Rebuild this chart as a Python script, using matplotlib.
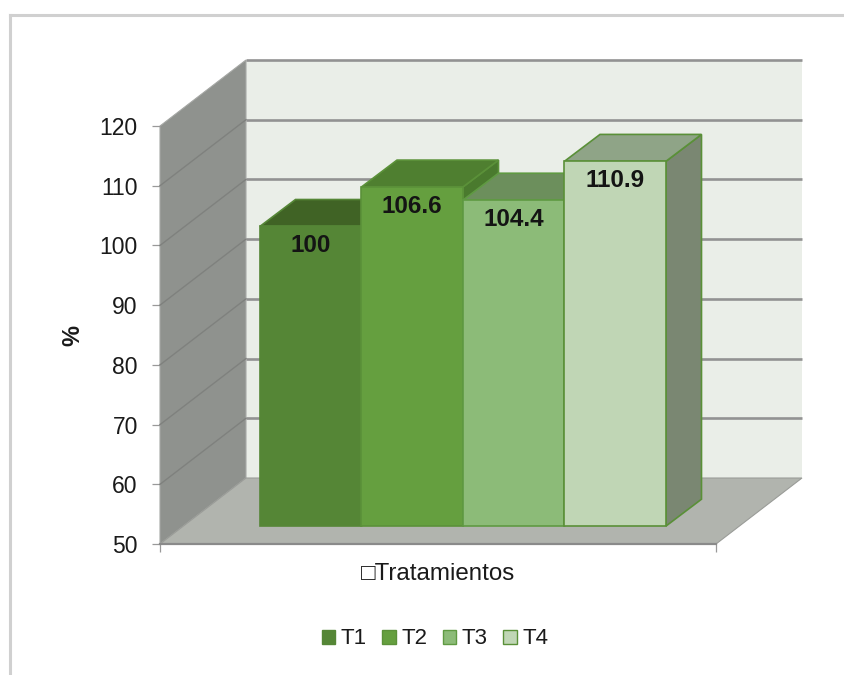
import matplotlib
matplotlib.use("Agg")
import matplotlib.pyplot as plt
from matplotlib.lines import Line2D
from matplotlib.patches import Patch, Polygon
import numpy as np

plt.rcParams.update({"font.family": ["Liberation Sans", "DejaVu Sans"], "font.size": 16})

TREATMENTS = ["T1", "T2", "T3", "T4"]
VALUES = [100, 106.6, 104.4, 110.9]
VALUE_LABELS = ["100", "106.6", "104.4", "110.9"]
Y_TICKS = [50, 60, 70, 80, 90, 100, 110, 120]

FRONT = ["#558636", "#659F3F", "#8CBB78", "#C0D6B5"]
TOP = ["#406325", "#4F7F30", "#6C8F5C", "#8FA487"]
SIDE = ["#3E6A26", "#4A7A2E", "#5F8A50", "#7A8772"]
EDGE = ["#558636", "#5B9139", "#5F9A42", "#5A9038"]

# oblique "3D" offsets, in data units
WALL_DX, WALL_DY = 0.847, 11.05
BAR_DX, BAR_DY = 0.35, 4.5
BAR_LIFT, BAR_FLOOR = 3.19, 53.0
X_MIN, X_MAX = -0.985, 4.493

fig = plt.figure(figsize=(8.44, 6.75), dpi=100)
ax = fig.add_axes([160 / 844, 1 - 544 / 675, 556 / 844, 418 / 675])
ax.set_xlim(X_MIN, X_MAX)
ax.set_ylim(50, 120)
ax.patch.set_visible(False)


def face(pts, color, z, edge="none", lw=0):
    ax.add_patch(Polygon(pts, closed=True, facecolor=color, edgecolor=edge,
                         linewidth=lw, zorder=z, clip_on=False))


# ---- walls and floor ----
bx0, bx1 = X_MIN + WALL_DX, X_MAX + WALL_DX
face([(bx0, 50 + WALL_DY), (bx1, 50 + WALL_DY), (bx1, 120 + WALL_DY), (bx0, 120 + WALL_DY)], "#EAEEE8", 1)
face([(X_MIN, 50), (bx0, 50 + WALL_DY), (bx0, 120 + WALL_DY), (X_MIN, 120)], "#8F928E", 1,
     edge="#A5A7A4", lw=0.8)
face([(X_MIN, 50), (X_MAX, 50), (bx1, 50 + WALL_DY), (bx0, 50 + WALL_DY)], "#B1B4AE", 1,
     edge="#9A9C98", lw=0.8)

for v in Y_TICKS[1:]:
    ax.plot([bx0, bx1], [v + WALL_DY] * 2, color="#929292", lw=1.9, zorder=2,
            clip_on=False, solid_capstyle="butt")
    if v < Y_TICKS[-1]:
        ax.plot([X_MIN, bx0], [v, v + WALL_DY], color="#7F817E", lw=1.0, zorder=2, clip_on=False)

# ---- bars, left to right so each one covers its neighbour's side ----
x = np.arange(len(VALUES), dtype=float)
for i, (xi, v) in enumerate(zip(x, VALUES)):
    z = 3 + i
    top = v + BAR_LIFT
    face([(xi + 1, BAR_FLOOR), (xi + 1 + BAR_DX, BAR_FLOOR + BAR_DY),
          (xi + 1 + BAR_DX, top + BAR_DY), (xi + 1, top)], SIDE[i], z, edge=EDGE[i], lw=1.2)
    face([(xi, top), (xi + 1, top), (xi + 1 + BAR_DX, top + BAR_DY), (xi + BAR_DX, top + BAR_DY)],
         TOP[i], z, edge=EDGE[i], lw=1.2)
    ax.bar(xi, top - BAR_FLOOR, width=1.0, bottom=BAR_FLOOR, align="edge", color=FRONT[i],
           edgecolor=EDGE[i], linewidth=1.2, zorder=z, clip_on=False)
    ax.annotate(VALUE_LABELS[i], (xi + 0.5, top), xytext=(0, -14), textcoords="offset points",
                ha="center", va="center", fontsize=17.5, fontweight="bold", color="#141414", zorder=10)

# ---- axes ----
for side in ("top", "right", "left"):
    ax.spines[side].set_visible(False)
ax.spines["bottom"].set_color("#8A8A8A")
ax.spines["bottom"].set_linewidth(1.6)
ax.spines["bottom"].set_zorder(3)
ax.set_yticks(Y_TICKS)
ax.tick_params(axis="y", length=6, width=0.9, color="#999999", pad=10,
               labelsize=16.5, labelcolor="#1A1A1A")
ax.set_xticks([X_MIN, X_MAX])
ax.set_xticklabels(["", ""])
ax.tick_params(axis="x", length=6, width=0.9, color="#999999")
ax.set_xlabel("□Tratamientos", fontsize=17.4, color="#1A1A1A", labelpad=4)
ax.set_ylabel("%", fontsize=17, fontweight="bold", color="#1A1A1A", labelpad=11)

handles = [Patch(facecolor=FRONT[i], edgecolor=EDGE[i], linewidth=1.0, label=TREATMENTS[i])
           for i in range(len(TREATMENTS))]
fig.legend(handles=handles, loc="center", bbox_to_anchor=(435 / 844, 1 - 639 / 675), ncol=4,
           frameon=False, fontsize=16, labelcolor="#1A1A1A", handlelength=0.6, handleheight=0.6,
           handletextpad=0.25, columnspacing=0.7, borderaxespad=0, borderpad=0)

# chart frame, only the top and left are inside the crop
fig.add_artist(Line2D([10 / 844, 1], [1 - 15 / 675] * 2, color="#D0D0D0", lw=2.2))
fig.add_artist(Line2D([10 / 844] * 2, [0, 1 - 15 / 675], color="#D0D0D0", lw=2.2))

fig.savefig("out.png", dpi=100)
